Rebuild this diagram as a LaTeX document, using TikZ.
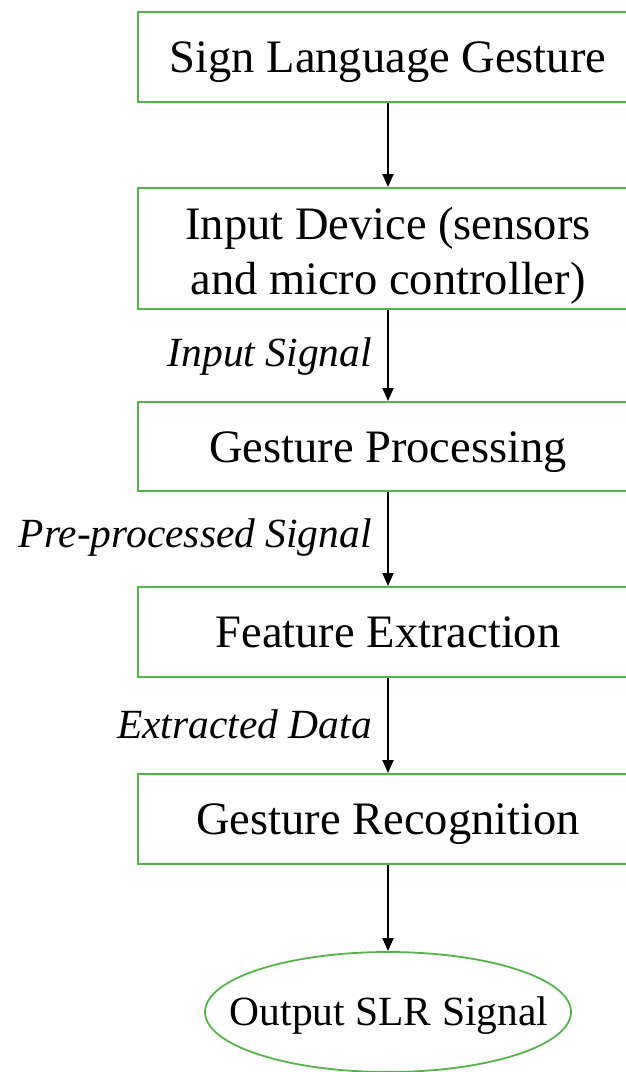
\documentclass[tikz,border=0pt]{standalone}
\usepackage{fontspec}
\setmainfont{Liberation Serif}
\usetikzlibrary{arrows.meta,shapes.geometric}
\definecolor{boxgreen}{RGB}{84,180,72}
\tikzset{
  stagebox/.style={draw=boxgreen, line width=2pt, rectangle,
    minimum width=500pt, inner sep=0pt,
    font=\fontsize{46.5}{55}\selectfont},
  onebox/.style={stagebox, text height=31pt, text depth=0pt},
  boxtext/.style={inner sep=0pt, align=center,
    font=\fontsize{46.5}{55}\selectfont},
  endoval/.style={draw=boxgreen, line width=1.8pt, ellipse, inner sep=0pt,
    minimum width=366pt, minimum height=120pt},
  ovaltext/.style={inner sep=0pt, text height=29pt, text depth=0pt,
    font=\fontsize{41.5}{48}\selectfont},
  flow/.style={line width=1.8pt, -{Triangle[length=13pt,width=11pt]}},
  flowlabel/.style={anchor=base east, inner sep=0pt,
    font=\fontsize{41.5}{48}\selectfont\itshape}
}
\begin{document}
\begin{tikzpicture}[x=1pt,y=-1pt]
\path[use as bounding box, clip] (0,0) rectangle (626,1072);
\fill[white] (0,0) rectangle (626,1072);

% stages of the recognition pipeline
\node[onebox, minimum height=90pt] (gesture) at (388,57) {Sign Language Gesture};
\node[stagebox, minimum height=121pt] (device) at (388,248.5) {};
\node[boxtext] (devicetext) at (388,256)
  {Input Device (sensors\\and micro controller)};
\node[onebox, minimum height=89pt] (proc) at (388,446.5) {Gesture Processing};
\node[onebox, minimum height=90pt] (feat) at (388,632) {Feature Extraction};
\node[onebox, minimum height=90pt] (recog) at (388,819) {Gesture Recognition};
\node[endoval] (out) at (388,1012) {};
\node[ovaltext] (outtext) at (389,1011) {Output SLR Signal};

% connectors
\draw[flow] (gesture.south -| 388,0) -- (device.north -| 388,0);
\draw[flow] (device.south -| 388,0) -- (proc.north -| 388,0);
\draw[flow] (proc.south -| 388,0) -- (feat.north -| 388,0);
\draw[flow] (feat.south -| 388,0) -- (recog.north -| 388,0);
\draw[flow] (recog.south -| 388,0) -- (out.north);

% signal labels
\node[flowlabel] (lblin) at (372,366) {Input Signal};
\node[flowlabel] (lblpre) at (372,547) {Pre-processed Signal};
\node[flowlabel] (lblext) at (372,738) {Extracted Data};
\end{tikzpicture}
\end{document}
